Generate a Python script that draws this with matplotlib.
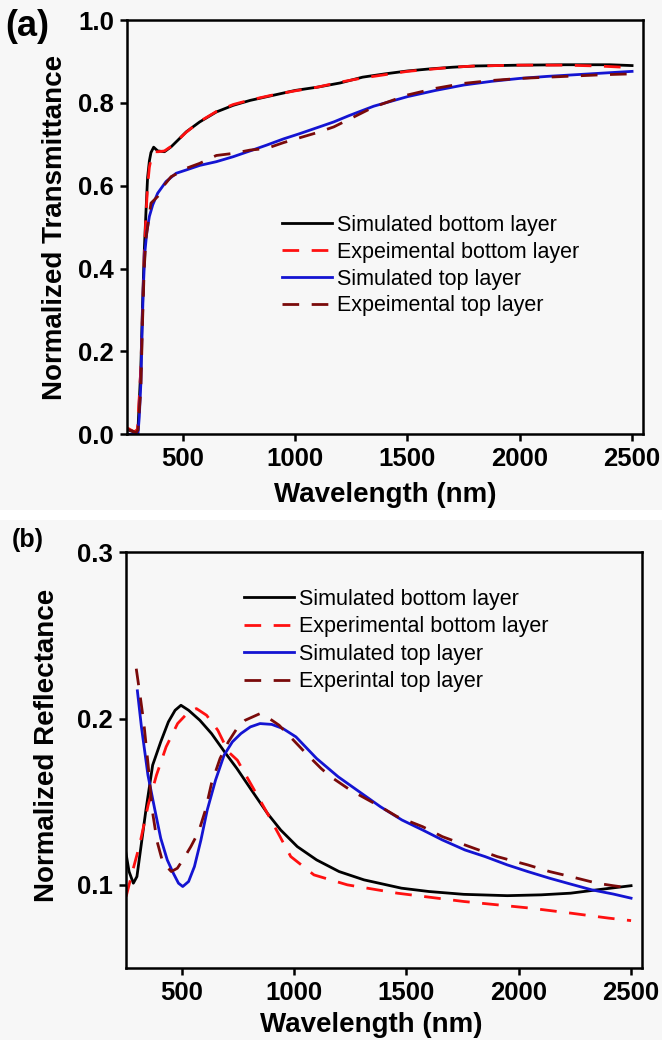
import matplotlib
matplotlib.use("Agg")
import matplotlib.pyplot as plt
from matplotlib.patches import Rectangle

plt.rcParams["font.family"] = ["Liberation Sans", "DejaVu Sans"]

BG = "#f7f7f7"

# ---------- (a) transmittance ----------
wl_a_sim_bot = [250, 270, 290, 300, 313, 321, 328, 336, 343, 351, 358, 370, 388, 418, 448,
                478, 515, 575, 649, 724, 800, 900, 1000, 1100, 1200, 1300, 1400, 1500,
                1600, 1700, 1800, 2000, 2200, 2400, 2500]
t_a_sim_bot = [0.012, 0.008, 0.004, 0.01, 0.162, 0.32, 0.44, 0.54, 0.62, 0.66, 0.68, 0.693,
               0.684, 0.682, 0.694, 0.71, 0.73, 0.754, 0.778, 0.794, 0.806, 0.818, 0.83,
               0.838, 0.848, 0.862, 0.870, 0.877, 0.882, 0.886, 0.889, 0.891, 0.892, 0.892,
               0.890]

wl_a_exp_bot = [254, 270, 284, 298, 313, 321, 328, 336, 343, 351, 360, 375, 390, 418, 448,
                478, 515, 575, 649, 724, 800, 900, 1000, 1100, 1200, 1300, 1400, 1500,
                1600, 1700, 1800, 2000, 2200, 2350, 2500]
t_a_exp_bot = [0.015, 0.01, 0.006, 0.012, 0.16, 0.31, 0.43, 0.53, 0.60, 0.645, 0.668, 0.682,
               0.682, 0.684, 0.695, 0.71, 0.729, 0.755, 0.779, 0.796, 0.807, 0.819, 0.829,
               0.838, 0.85, 0.86, 0.868, 0.876, 0.881, 0.886, 0.889, 0.891, 0.891, 0.889,
               0.885]

wl_a_sim_top = [250, 280, 300, 306, 313, 318, 324, 331, 340, 351, 366, 388, 425, 470, 515,
                575, 649, 724, 799, 873, 948, 1022, 1097, 1172, 1239, 1350, 1500, 1625,
                1750, 1875, 2000, 2125, 2250, 2375, 2500]
t_a_sim_top = [0.0, 0.0, 0.0, 0.042, 0.122, 0.24, 0.354, 0.44, 0.49, 0.526, 0.554, 0.582,
               0.61, 0.63, 0.638, 0.649, 0.658, 0.67, 0.684, 0.698, 0.713, 0.726, 0.74,
               0.754, 0.769, 0.792, 0.815, 0.830, 0.843, 0.852, 0.859, 0.864, 0.868, 0.872,
               0.876]

wl_a_exp_top = [254, 275, 292, 300, 313, 321, 328, 336, 343, 358, 388, 418, 448, 470, 515,
                575, 649, 724, 799, 873, 948, 1022, 1097, 1172, 1239, 1350, 1500, 1625,
                1750, 1875, 2000, 2125, 2250, 2375, 2500]
t_a_exp_top = [0.012, 0.008, 0.004, 0.01, 0.11, 0.28, 0.40, 0.474, 0.5, 0.558, 0.574, 0.602,
               0.622, 0.628, 0.642, 0.654, 0.673, 0.678, 0.686, 0.69, 0.704, 0.716, 0.728,
               0.742, 0.76, 0.79, 0.819, 0.835, 0.847, 0.854, 0.859, 0.862, 0.865, 0.868,
               0.870]

# ---------- (b) reflectance ----------
wl_b_sim_bot = [250, 265, 284, 300, 320, 340, 370, 406, 440, 470, 496, 530, 580, 632, 690,
                745, 810, 881, 940, 1014, 1100, 1200, 1311, 1478, 1600, 1755, 1949, 2100,
                2231, 2348, 2500]
r_b_sim_bot = [0.12, 0.108, 0.101, 0.105, 0.125, 0.145, 0.172, 0.186, 0.198, 0.205, 0.208,
               0.205, 0.199, 0.191, 0.180, 0.170, 0.157, 0.143, 0.133, 0.123, 0.115, 0.108,
               0.103, 0.098, 0.096, 0.0943, 0.0935, 0.094, 0.095, 0.097, 0.0995]

wl_b_exp_bot = [252, 280, 312, 350, 387, 430, 481, 530, 565, 610, 660, 707, 747, 810, 881,
                985, 1088, 1237, 1459, 1755, 2052, 2231, 2400, 2500]
r_b_exp_bot = [0.093, 0.108, 0.124, 0.148, 0.166, 0.183, 0.197, 0.204, 0.206, 0.202, 0.193,
               0.180, 0.175, 0.160, 0.143, 0.117, 0.106, 0.100, 0.095, 0.090, 0.086, 0.083,
               0.080, 0.0785]

wl_b_sim_top = [302, 320, 349, 380, 406, 435, 462, 485, 504, 530, 556, 585, 613, 650, 688,
                725, 763, 805, 848, 900, 950, 1008, 1100, 1196, 1290, 1384, 1480, 1572,
                1660, 1760, 1850, 1949, 2040, 2137, 2230, 2325, 2420, 2500]
r_b_sim_top = [0.2167, 0.195, 0.166, 0.145, 0.128, 0.115, 0.107, 0.101, 0.099, 0.102, 0.111,
               0.127, 0.145, 0.163, 0.178, 0.186, 0.191, 0.195, 0.197, 0.1965, 0.194, 0.189,
               0.176, 0.165, 0.156, 0.147, 0.139, 0.133, 0.127, 0.121, 0.117, 0.112, 0.108,
               0.104, 0.1005, 0.097, 0.0945, 0.092]

wl_b_exp_top = [297, 315, 331, 350, 368, 390, 415, 453, 480, 509, 540, 575, 605, 632, 670,
                707, 745, 782, 848, 890, 933, 990, 1046, 1120, 1163, 1250, 1384, 1459, 1572,
                1660, 1760, 1904, 2040, 2137, 2230, 2348, 2420, 2500]
r_b_exp_top = [0.230, 0.213, 0.197, 0.172, 0.145, 0.126, 0.1135, 0.108, 0.110, 0.116, 0.123,
               0.132, 0.145, 0.161, 0.176, 0.186, 0.194, 0.199, 0.203, 0.200, 0.196, 0.188,
               0.180, 0.170, 0.165, 0.157, 0.147, 0.141, 0.135, 0.129, 0.124, 0.117, 0.112,
               0.108, 0.105, 0.101, 0.0995, 0.098]

labels_a = ["Simulated bottom layer", "Expeimental bottom layer",
            "Simulated top layer", "Expeimental top layer"]
labels_b = ["Simulated bottom layer", "Experimental bottom layer",
            "Simulated top layer", "Experintal top layer"]

C_BLACK, C_RED, C_BLUE, C_DRED = "#000000", "#ff1010", "#1414d2", "#7a0a0a"

W, H = 662, 1040
fig = plt.figure(figsize=(W / 100, H / 100), dpi=100, facecolor=BG)
# white gap between the two pasted panels
fig.patches.append(Rectangle((0, 1 - 520 / H), 1, 10 / H, transform=fig.transFigure,
                             facecolor="white", edgecolor="none", zorder=-1))


def px_axes(left, top, right, bottom):
    return fig.add_axes([left / W, 1 - bottom / H, (right - left) / W, (bottom - top) / H])


def style(ax):
    ax.set_facecolor(BG)
    for s in ax.spines.values():
        s.set_linewidth(1.8)
    ax.tick_params(axis="both", which="both", direction="out", length=5, width=1.8,
                   labelsize=18.5, top=False, right=False)
    ax.tick_params(axis="x", pad=4)
    ax.tick_params(axis="y", pad=4)
    for lab in ax.get_xticklabels() + ax.get_yticklabels():
        lab.set_fontweight("bold")


def draw(ax, series, labels):
    lines = []
    for (x, y, c, dashed), lab in zip(series, labels):
        kw = dict(color=c, lw=2.0, label=lab)
        if dashed:
            kw["dashes"] = (6, 4.5)
        lines += ax.plot(x, y, **kw)
    return lines


# ---- panel (a)
ax1 = px_axes(126.7, 20, 643.3, 434.3)
draw(ax1, [
    (wl_a_sim_bot, t_a_sim_bot, C_BLACK, False),
    (wl_a_exp_bot, t_a_exp_bot, C_RED, True),
    (wl_a_sim_top, t_a_sim_top, C_BLUE, False),
    (wl_a_exp_top, t_a_exp_top, C_DRED, True),
], labels_a)
ax1.set_xlim(250, 2550)
ax1.set_ylim(0, 1.0)
ax1.set_xticks([500, 1000, 1500, 2000, 2500])
ax1.set_yticks([0.0, 0.2, 0.4, 0.6, 0.8, 1.0])
ax1.set_yticklabels(["0.0", "0.2", "0.4", "0.6", "0.8", "1.0"])
style(ax1)
ax1.set_xlabel("Wavelength (nm)", fontsize=20, fontweight="bold", labelpad=8)
ax1.set_ylabel("Normalized Transmittance", fontsize=20, fontweight="bold")
ax1.yaxis.set_label_coords((68 - 126.7) / 516.6, 0.5)
ax1.legend(loc="upper left", bbox_to_anchor=(282 / W, 1 - 215 / H),
           bbox_transform=fig.transFigure, frameon=False, fontsize=15.5,
           handlelength=2.3, handletextpad=0.25, labelspacing=0.27,
           borderpad=0, borderaxespad=0)
fig.text(5 / W, 1 - 26 / H, "(a)", fontsize=26, fontweight="bold", va="center", ha="left")

# ---- panel (b)
ax2 = px_axes(125.7, 552.3, 642.3, 968)
draw(ax2, [
    (wl_b_sim_bot, r_b_sim_bot, C_BLACK, False),
    (wl_b_exp_bot, r_b_exp_bot, C_RED, True),
    (wl_b_sim_top, r_b_sim_top, C_BLUE, False),
    (wl_b_exp_top, r_b_exp_top, C_DRED, True),
], labels_b)
ax2.set_xlim(250, 2550)
ax2.set_ylim(0.05, 0.3)
ax2.set_xticks([500, 1000, 1500, 2000, 2500])
ax2.set_yticks([0.1, 0.2, 0.3])
ax2.set_yticklabels(["0.1", "0.2", "0.3"])
style(ax2)
ax2.set_xlabel("Wavelength (nm)", fontsize=20, fontweight="bold", labelpad=2)
ax2.xaxis.set_label_coords((371 - 125.7) / 516.6, -0.105)
ax2.set_ylabel("Normalized Reflectance", fontsize=20, fontweight="bold")
ax2.yaxis.set_label_coords((60 - 125.7) / 516.6, (968 - 745) / 415.7)
ax2.legend(loc="upper left", bbox_to_anchor=(244 / W, 1 - 589 / H),
           bbox_transform=fig.transFigure, frameon=False, fontsize=15.5,
           handlelength=2.3, handletextpad=0.25, labelspacing=0.3,
           borderpad=0, borderaxespad=0)
fig.text(12 / W, 1 - 540 / H, "(b)", fontsize=18, fontweight="bold", va="center", ha="left")

fig.savefig("out.png", dpi=100, facecolor=BG)
